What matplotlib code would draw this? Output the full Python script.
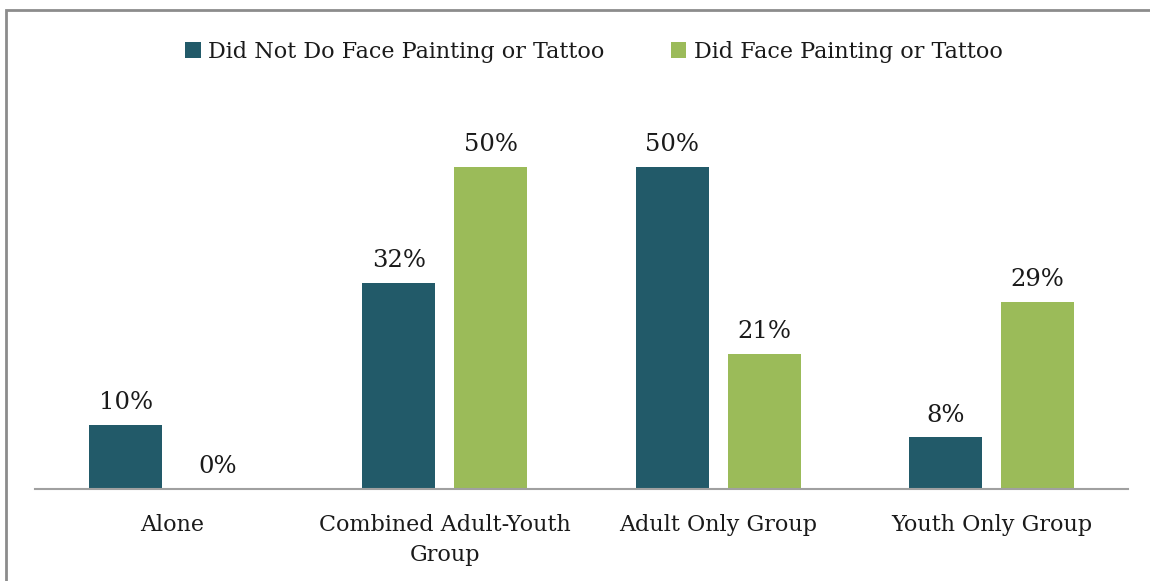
import matplotlib
matplotlib.use("Agg")
import matplotlib.pyplot as plt
from matplotlib.patches import Rectangle
import numpy as np

categories = ["Alone", "Combined Adult-Youth\nGroup", "Adult Only Group", "Youth Only Group"]
series_names = ["Did Not Do Face Painting or Tattoo", "Did Face Painting or Tattoo"]
did_not = [10, 32, 50, 8]
did = [0, 50, 21, 29]

colors = ["#225A69", "#9BBB59"]
W, H = 1150, 581
plt.rcParams["font.family"] = ["DejaVu Serif"]

fig = plt.figure(figsize=(W / 100, H / 100), dpi=100)
ax = fig.add_axes([35 / W, (H - 489) / H, (1128 - 35) / W, (489 - 102.6) / H])

x = np.arange(len(categories))
bw = 0.267
off = 0.168
for vals, dx, c, name in [(did_not, -off, colors[0], series_names[0]), (did, off, colors[1], series_names[1])]:
    bars = ax.bar(x + dx, vals, bw, color=c, label=name)
    for b, v in zip(bars, vals):
        ax.text(b.get_x() + b.get_width() / 2, v + 1.7, f"{v}%", ha="center", va="bottom",
                fontsize=17.5, color="#1a1a1a")

ax.set_xlim(-0.5, 3.5)
ax.set_ylim(0, 60)
ax.set_yticks([])
ax.set_xticks(x)
ax.set_xticklabels(categories, fontsize=16, color="#1a1a1a", linespacing=1.5)
ax.tick_params(axis="x", length=0, pad=18)
for s in ["top", "right", "left"]:
    ax.spines[s].set_visible(False)
ax.spines["bottom"].set_color("#a0a0a0")
ax.spines["bottom"].set_linewidth(1.5)

leg = fig.legend(loc="center", bbox_to_anchor=(594 / W, 1 - 52 / H), ncol=2, frameon=False,
                 fontsize=16, handlelength=0.7, handleheight=0.7, handletextpad=0.35,
                 columnspacing=2.97)
for t in leg.get_texts():
    t.set_color("#1a1a1a")

# outer frame (left and top edges visible)
fig.add_artist(Rectangle((5.5 / W, -0.05), 1.2, (H - 10.5) / H + 0.05, transform=fig.transFigure,
                         fill=False, edgecolor="#8c8c8c", linewidth=2))

fig.savefig("out.png", dpi=100)
